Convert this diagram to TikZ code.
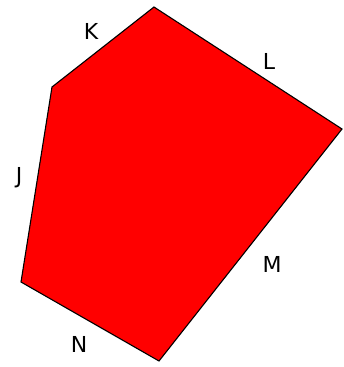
\documentclass[tikz,border=0pt]{standalone}
\usepackage{fontspec}
\setmainfont{DejaVu Sans}
\begin{document}
\begin{tikzpicture}[x=1pt,y=-1pt,
  lbl/.style={font=\fontsize{22}{22}\selectfont, inner sep=0pt, anchor=center}]
\useasboundingbox (0,0) rectangle (343,367);
\coordinate (top) at (154,7);
\coordinate (rt) at (342,129);
\coordinate (bot) at (159,361);
\coordinate (bl) at (21,282);
\coordinate (lf) at (52,87);
\draw[fill={rgb,255:red,255;green,0;blue,0}, line width=1.1pt, line join=miter]
  (top) -- (rt) -- (bot) -- (bl) -- (lf) -- cycle;
\node[lbl] (K) at (91,31) {K};
\node[lbl] (L) at (269,61) {L};
\node[lbl] (J) at (19,178) {J};
\node[lbl] (M) at (272,264) {M};
\node[lbl] (N) at (79,344) {N};
\end{tikzpicture}
\end{document}
